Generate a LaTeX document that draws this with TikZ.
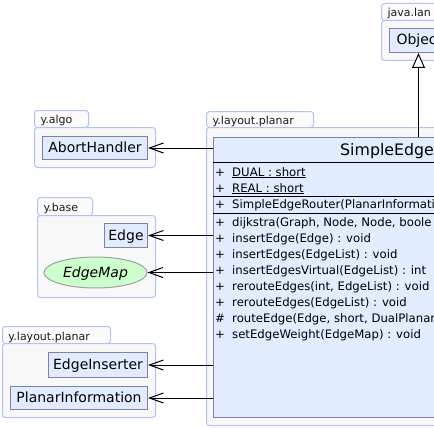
\documentclass[tikz,border=0pt]{standalone}
\usepackage{fontspec}
\setmainfont{DejaVu Sans}
\usepackage{xcolor}
\usepackage{tikz}
\usetikzlibrary{arrows.meta,positioning,calc,shapes.geometric}
\definecolor{pkgLine}{HTML}{B2C2F2}
\definecolor{pkgFill}{HTML}{F8F8F8}
\definecolor{pkgTabFill}{HTML}{FBFBFB}
\definecolor{pkgInk}{HTML}{1A1A1A}
\definecolor{umlLine}{HTML}{8080B0}
\definecolor{umlFill}{HTML}{E2ECFF}
\definecolor{umlInk}{HTML}{000000}
\definecolor{ifaceFill}{HTML}{CCFFCC}
\definecolor{ifaceLine}{HTML}{A0A0A0}
\newcommand{\umlvis}[1]{\makebox[17pt][l]{#1}}
\tikzset{
  pkgtab/.style={draw=pkgLine, fill=pkgTabFill, rounded corners=3pt, line width=1pt, anchor=north west,
                 inner xsep=6pt, inner ysep=0pt, minimum height=17pt, align=left, text height=10pt, text depth=0pt,
                 font=\fontsize{11}{13}\selectfont, text=pkgInk},
  pkgbody/.style={draw=pkgLine, fill=pkgFill, rounded corners=3pt, line width=1pt, anchor=north west, inner sep=0pt},
  umlbox/.style={draw=umlLine, fill=umlFill, line width=1pt, anchor=north west, inner sep=0pt,
                 text height=10pt, text depth=1pt, font=\fontsize{14}{16}\selectfont, text=umlInk},
  umlmember/.style={anchor=base west, inner sep=0pt, font=\fontsize{11.7}{13}\selectfont, text=umlInk},
  umlsep/.style={draw=umlInk, line width=1pt},
  deparr/.style={-{Straight Barb[length=14pt,width=10pt]}, line width=1pt},
  inharr/.style={-{Triangle[length=15pt,width=13pt,fill=white]}, line width=1pt},
}

\begin{document}
\begin{tikzpicture}[x=1pt, y=-1pt]
    \useasboundingbox (0,0) rectangle (434,428);
    \clip (0,0) rectangle (434,428);
    \fill[white] (0,0) rectangle (434,428);
    % packages
    \node[pkgtab, text width=58pt] (langTab) at (381,3) {java.lan};
    \node[pkgbody, minimum width=100pt, minimum height=40pt] (langPkg) at (381,20) {};
    \node[pkgtab, text width=42pt] (algoTab) at (34,110) {y.algo};
    \node[pkgbody, minimum width=121pt, minimum height=40pt] (algoPkg) at (34,127) {};
    \node[pkgtab, text width=95pt, minimum height=16pt] (planarTab) at (206,111) {y.layout.planar};
    \node[pkgbody, minimum width=300pt, minimum height=298pt] (planarPkg) at (206,127) {};
    \node[pkgtab, text width=43pt, minimum height=18pt] (baseTab) at (37,197) {y.base};
    \node[pkgbody, minimum width=118pt, minimum height=82pt] (basePkg) at (37,215) {};
    \node[pkgtab, text width=96pt] (planarTabB) at (2,326) {y.layout.planar};
    \node[pkgbody, minimum width=153pt, minimum height=74pt] (planarPkgB) at (2,343) {};
    % classes
    \node[umlbox, minimum width=58pt, minimum height=24pt, text width=44pt, align=left] (object) at (389,28) {Objec};
    \node[umlbox, minimum width=105pt, minimum height=23pt] (abort) at (42,136) {AbortHandler};
    \node[umlbox, minimum width=43pt, minimum height=24pt] (edge) at (104,223) {Edge};
    \node[ellipse, draw=ifaceLine, fill=ifaceFill, line width=1pt, inner sep=0pt, minimum width=103pt, minimum height=31pt,
          text height=10pt, text depth=1pt, font=\fontsize{14}{16}\selectfont\itshape] (edgeMap) at (95.5,272.5) {EdgeMap};
    \node[umlbox, minimum width=99pt, minimum height=25pt] (inserter) at (48,352) {EdgeInserter};
    \node[umlbox, minimum width=137pt, minimum height=23pt] (planarInfo) at (10,386) {PlanarInformation};
    \node[umlbox, minimum width=410pt, minimum height=280pt] (router) at (213,137) {};
    \node[anchor=base west, inner sep=0pt, font=\fontsize{15.8}{18}\selectfont] (routerName) at (340,155) {SimpleEdge};
    \draw[umlsep] (213,162) -- (623,162);
    \draw[umlsep] (213,196.5) -- (623,196.5);
    \draw[umlsep] (213,213) -- (623,213);
    \node[umlmember] (dual) at (215,176) {\umlvis{+}\underline{DUAL : short}};
    \node[umlmember] (real) at (215,192) {\umlvis{+}\underline{REAL : short}};
    \node[umlmember] (ctor) at (215,208) {\umlvis{+}SimpleEdgeRouter(PlanarInformatio};
    \node[umlmember] (dijkstra) at (215,226) {\umlvis{+}dijkstra(Graph, Node, Node, boole};
    \node[umlmember] (insEdge) at (215,242) {\umlvis{+}insertEdge(Edge) : void};
    \node[umlmember] (insEdges) at (215,258) {\umlvis{+}insertEdges(EdgeList) : void};
    \node[umlmember] (insVirtual) at (215,274) {\umlvis{+}insertEdgesVirtual(EdgeList) : int};
    \node[umlmember] (rerouteB) at (215,290) {\umlvis{+}rerouteEdges(int, EdgeList) : void};
    \node[umlmember] (rerouteA) at (215,306) {\umlvis{+}rerouteEdges(EdgeList) : void};
    \node[umlmember] (routeEdge) at (215,322) {\umlvis{\#}routeEdge(Edge, short, DualPlanarI};
    \node[umlmember] (setWeight) at (215,338) {\umlvis{+}setEdgeWeight(EdgeMap) : void};
    % relations
    \draw[inharr] (router.north -| object.south) -- (object.south);
    \draw[deparr] (router.west |- abort.east) -- (abort.east);
    \draw[deparr] (router.west |- edge.east) -- (edge.east);
    \draw[deparr] (router.west |- edgeMap.east) -- (edgeMap.east);
    \draw[deparr] (router.west |- inserter.east) -- (inserter.east);
    \draw[deparr] (router.west |- planarInfo.east) -- (planarInfo.east);
  \end{tikzpicture}
\end{document}
